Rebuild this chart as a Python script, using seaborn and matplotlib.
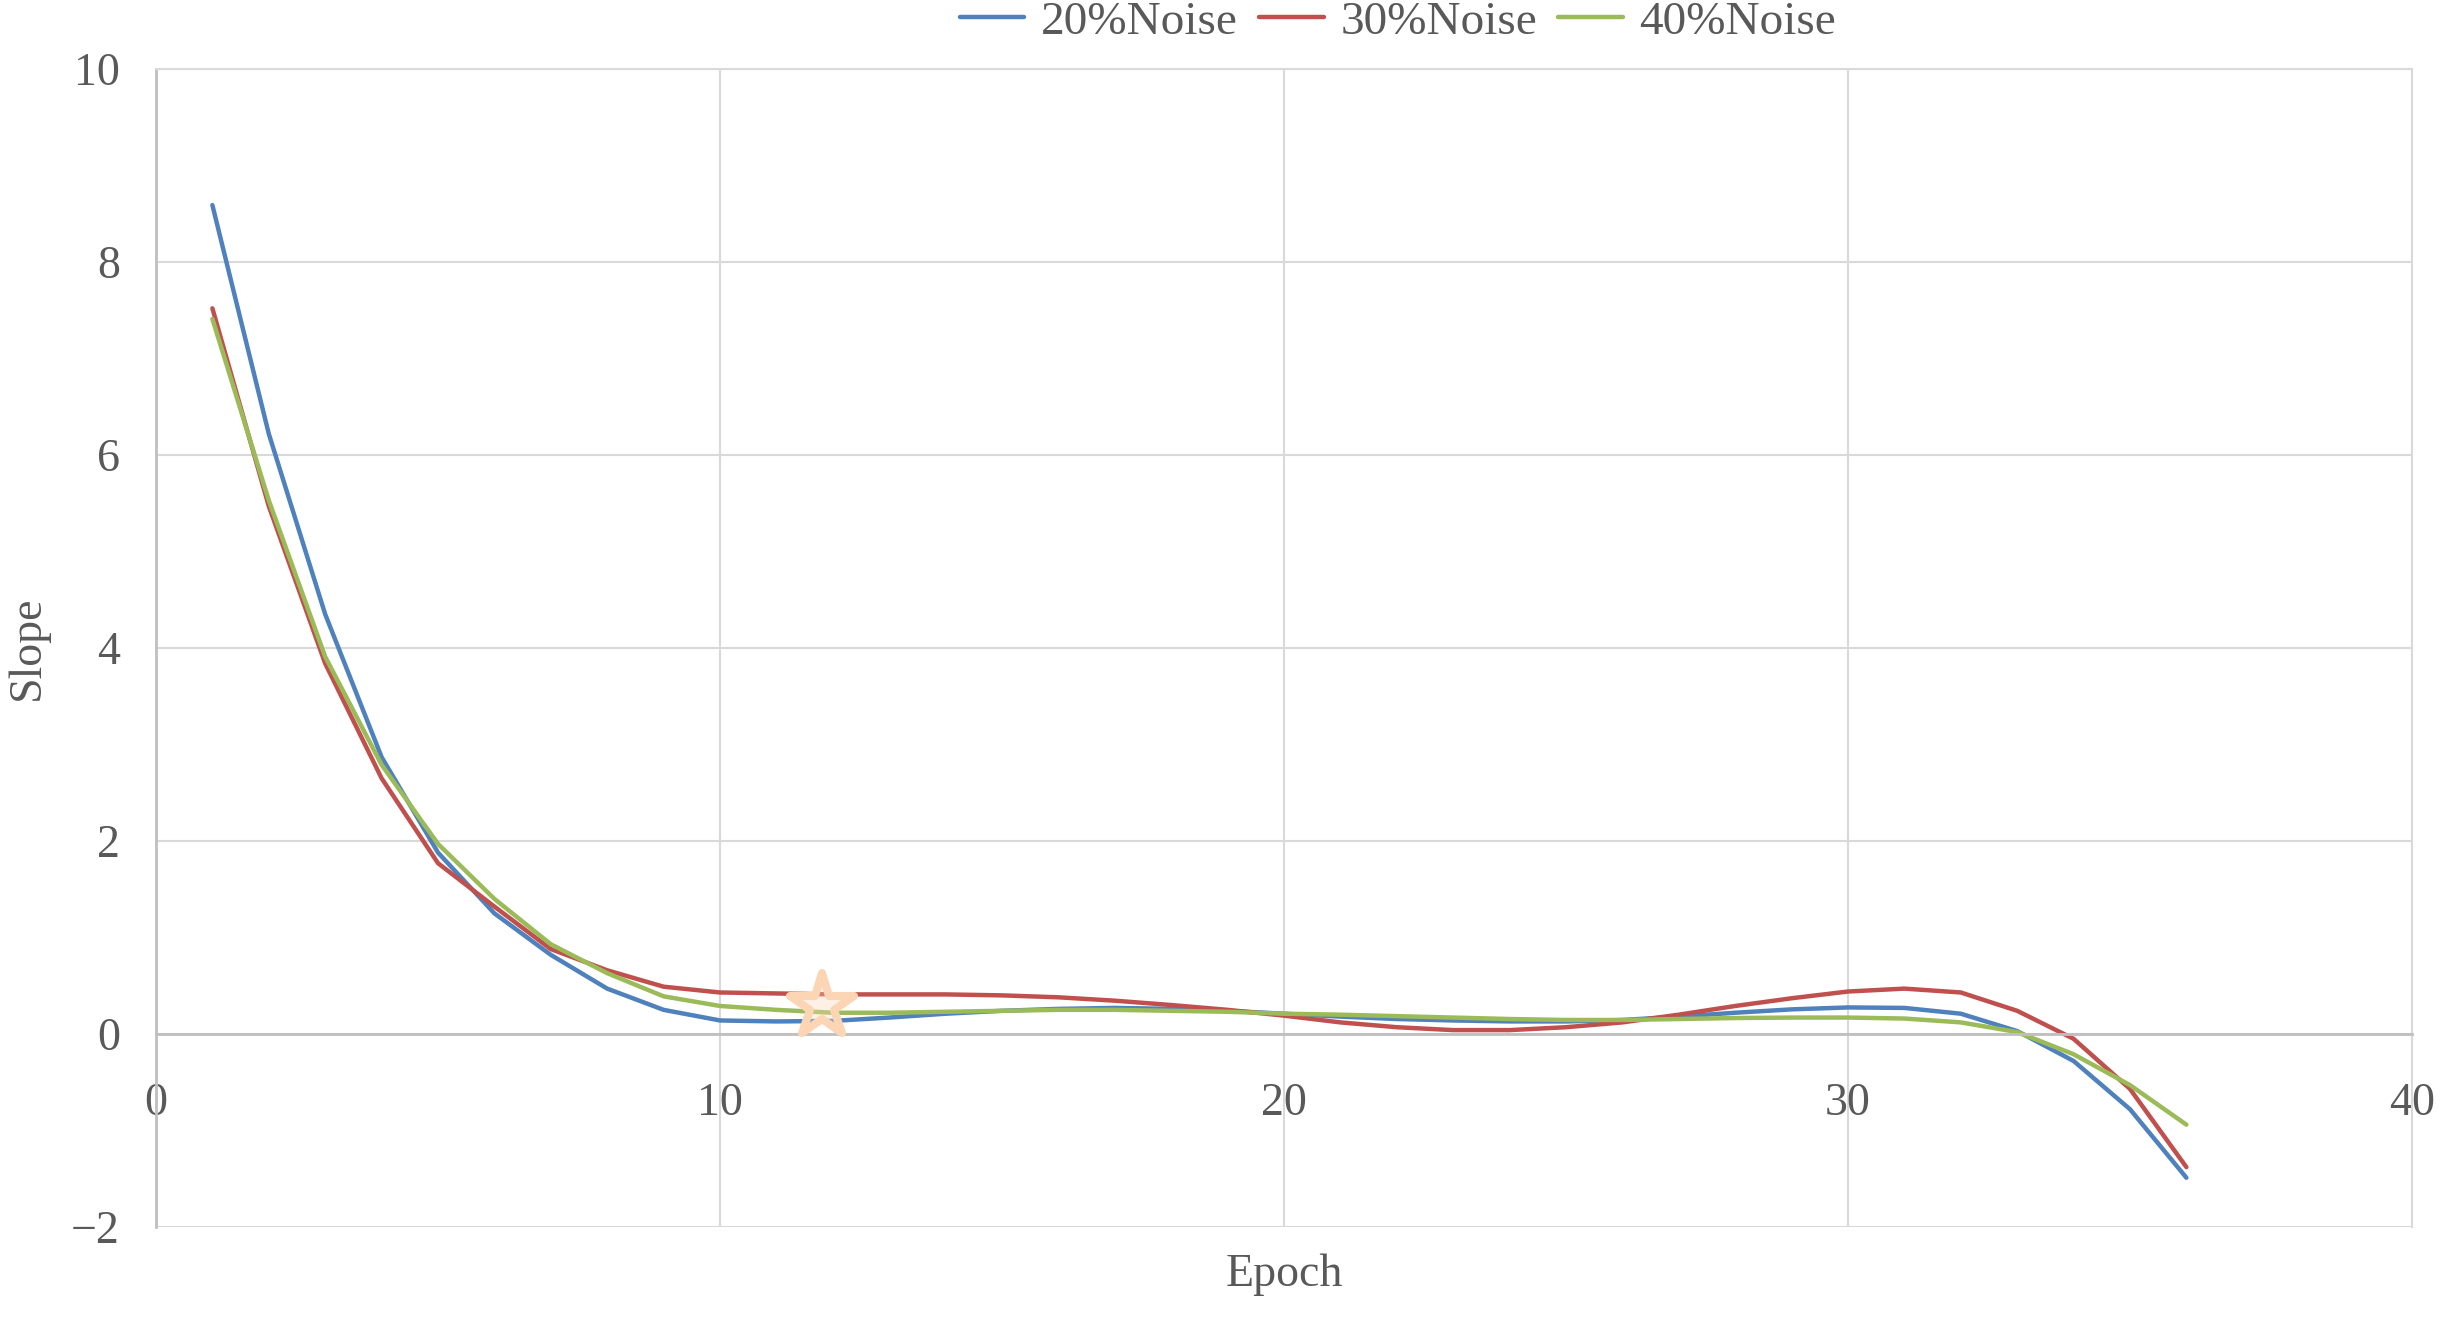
import matplotlib
matplotlib.use('Agg')
import matplotlib.pyplot as plt
from matplotlib.markers import MarkerStyle
import seaborn as sns
import pandas as pd

# values, one per epoch
epochs = list(range(1, 37))
noise_20 = [8.59, 6.22, 4.35, 2.87, 1.88, 1.25, 0.82, 0.47, 0.25, 0.14,
            0.13, 0.135, 0.17, 0.21, 0.24, 0.26, 0.27, 0.26, 0.24, 0.21,
            0.18, 0.155, 0.14, 0.13, 0.13, 0.145, 0.18, 0.22, 0.255, 0.275,
            0.27, 0.21, 0.03, -0.28, -0.78, -1.49]
noise_30 = [7.52, 5.47, 3.84, 2.65, 1.77, 1.32, 0.88, 0.66, 0.49, 0.43,
            0.42, 0.41, 0.41, 0.41, 0.40, 0.38, 0.345, 0.30, 0.25, 0.19,
            0.12, 0.07, 0.04, 0.04, 0.07, 0.12, 0.20, 0.29, 0.37, 0.44,
            0.47, 0.43, 0.24, -0.05, -0.57, -1.38]
noise_40 = [7.41, 5.53, 3.91, 2.79, 1.97, 1.40, 0.93, 0.63, 0.39, 0.29,
            0.25, 0.22, 0.22, 0.23, 0.24, 0.25, 0.25, 0.24, 0.23, 0.21,
            0.20, 0.185, 0.17, 0.155, 0.145, 0.145, 0.155, 0.165, 0.17, 0.17,
            0.16, 0.12, 0.02, -0.21, -0.53, -0.94]
series_names = ['20%Noise', '30%Noise', '40%Noise']
star_epoch = [11.8]
star_slope = [0.29]

df = pd.DataFrame({'Epoch': epochs,
                   series_names[0]: noise_20,
                   series_names[1]: noise_30,
                   series_names[2]: noise_40})
long_df = df.melt(id_vars='Epoch', var_name='Series', value_name='Slope')

sns.set_theme(style='white')
plt.rcParams['font.family'] = ['Liberation Serif', 'DejaVu Serif']
text_color = '#595959'

fig, ax = plt.subplots(figsize=(24.45, 13.23), dpi=100)
fig.subplots_adjust(left=0.0638, right=0.9865, top=0.9478, bottom=0.0726)

sns.lineplot(data=long_df, x='Epoch', y='Slope', hue='Series',
             palette=['#4F81BD', '#C0504D', '#9BBB59'], linewidth=3.2,
             solid_capstyle='round', solid_joinstyle='round', ax=ax)

# highlighted point
ax.plot(star_epoch, star_slope, linestyle='none',
        marker=MarkerStyle('*', joinstyle='round'), markersize=48,
        markerfacecolor=(0.988, 0.835, 0.706, 0.35),
        markeredgecolor='#FCD5B4', markeredgewidth=5.8, zorder=5)

ax.set_xlim(0, 40)
ax.set_ylim(-2, 10)
ax.set_xticks(range(0, 41, 10))
ax.set_yticks(range(-2, 11, 2))
ax.grid(True, color='#D9D9D9', linewidth=1.5)
ax.set_axisbelow(True)

for side in ['top', 'right']:
    ax.spines[side].set_visible(True)
    ax.spines[side].set_color('#D9D9D9')
    ax.spines[side].set_linewidth(1.5)
ax.spines['left'].set_color('#BFBFBF')
ax.spines['left'].set_linewidth(2)
ax.spines['bottom'].set_position(('data', 0))
ax.spines['bottom'].set_color('#BFBFBF')
ax.spines['bottom'].set_linewidth(2)

ax.tick_params(axis='x', length=0, pad=35, labelsize=33, labelcolor=text_color)
ax.tick_params(axis='y', length=0, pad=26, labelsize=33, labelcolor=text_color)

ax.set_xlabel('Epoch', fontsize=33, color=text_color, va='center')
ax.xaxis.set_label_coords(0.5, -0.0415)
ax.set_ylabel('Slope', fontsize=33, color=text_color, va='center')
ax.yaxis.set_label_coords(-0.0567, 0.5)

handles, labels = ax.get_legend_handles_labels()
leg = ax.legend(handles[:3], labels[:3], loc='center', bbox_to_anchor=(0.5505, 1.0406),
                ncol=3, frameon=False, fontsize=34, handlelength=1.37,
                handletextpad=0.35, columnspacing=0.45)
for t in leg.get_texts():
    t.set_color(text_color)

fig.savefig('out.png', dpi=100)
